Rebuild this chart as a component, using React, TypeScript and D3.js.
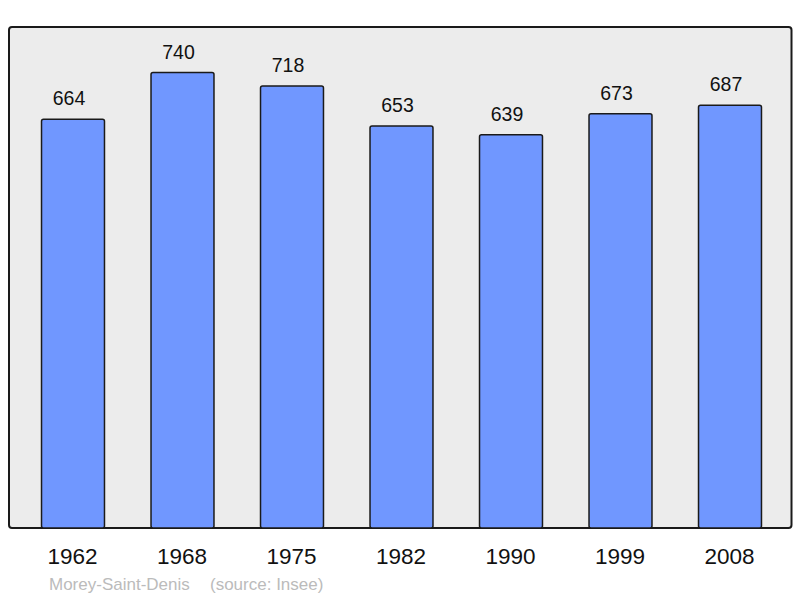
import React from "react";
import * as d3 from "d3";

const years = ["1962", "1968", "1975", "1982", "1990", "1999", "2008"];
const population = [664, 740, 718, 653, 639, 673, 687];
const commune = "Morey-Saint-Denis";
const sourceLabel = "(source: Insee)";

export default function App() {
  const W = 800, H = 598;
  const panel = { x: 9, y: 27, w: 782.5, h: 501 };
  const x = d3.scaleBand<string>()
    .domain(years)
    .range([18.25, 784.75])
    .paddingInner(0.425)
    .paddingOuter(0.2125);
  const maxV = d3.max(population)! * 1.1;
  const y = d3.scaleLinear().domain([0, maxV]).range([panel.y + panel.h, panel.y]);
  const font = "Liberation Sans, Arial, sans-serif";
  return (
    <svg width={W} height={H} style={{ position: "absolute", left: 0, top: 0 }}>
      <rect x={0} y={0} width={W} height={H} fill="#ffffff" />
      <rect x={panel.x} y={panel.y} width={panel.w} height={panel.h} rx={3} fill="#ececec" stroke="#1a1a1a" strokeWidth={2} />
      {years.map((yr, i) => {
        const v = population[i];
        const bx = x(yr)!;
        const bw = x.bandwidth();
        const top = y(v);
        return (
          <g key={yr}>
            <rect x={bx} y={top} width={bw} height={y(0) - top} rx={2} fill="#7097ff" stroke="#1a1a1a" strokeWidth={1.5} />
            <text x={bx + bw / 2 - 4} y={top - 14} textAnchor="middle" fontFamily={font} fontSize={19.5} fill="#111">{v}</text>
            <text x={bx + bw / 2 - 0.5} y={564} textAnchor="middle" fontFamily={font} fontSize={22.5} fill="#111">{yr}</text>
          </g>
        );
      })}
      <text x={49} y={590} fontFamily={font} fontSize={17} fill="#bbbbbb">{commune}</text>
      <text x={210} y={590} fontFamily={font} fontSize={17} fill="#bbbbbb">{sourceLabel}</text>
    </svg>
  );
}
